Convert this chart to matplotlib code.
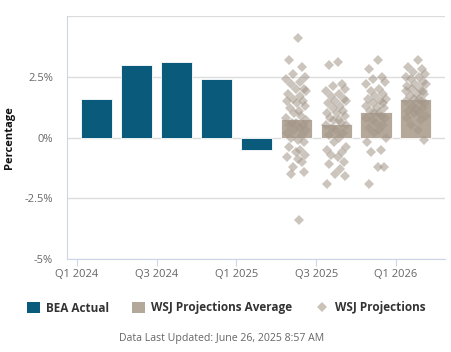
import matplotlib
matplotlib.use("Agg")
import matplotlib.pyplot as plt
from matplotlib.patches import Patch
from matplotlib.lines import Line2D
import numpy as np

plt.rcParams['font.family'] = ['Open Sans', 'DejaVu Sans']

quarters = ["Q1 2024", "Q2 2024", "Q3 2024", "Q4 2024", "Q1 2025",
            "Q2 2025", "Q3 2025", "Q4 2025", "Q1 2026"]
bea_actual = [1.6, 3.0, 3.1, 2.4, -0.5]
wsj_average = [0.78, 0.57, 1.05, 1.6]
tick_labels = ["Q1 2024", "Q3 2024", "Q1 2025", "Q3 2025", "Q1 2026"]

proj_q2_2025 = [4.1, 3.2, 2.9, 2.6, 2.5, 2.4, 2.3, 2.2, 2.0, 2.0, 1.9, 1.8, 1.7,
                1.6, 1.5, 1.5, 1.4, 1.3, 1.2, 1.1, 1.0, 0.9, 0.8, 0.7, 0.6, 0.6,
                0.5, 0.5, 0.4, 0.3, 0.3, 0.2, 0.1, 0.0, -0.1, -0.2, -0.4, -0.5,
                -0.6, -0.7, -0.8, -0.9, -1.0, -1.2, -1.4, -1.5, -3.4]
proj_q3_2025 = [3.1, 3.0, 2.2, 2.1, 2.0, 1.9, 1.8, 1.7, 1.6, 1.5, 1.5, 1.4, 1.3,
                1.2, 1.1, 1.0, 1.0, 0.9, 0.8, 0.7, 0.7, 0.6, 0.5, 0.5, 0.4, 0.3,
                0.2, 0.1, 0.0, -0.2, -0.4, -0.5, -0.6, -0.7, -0.8, -1.0, -1.1,
                -1.3, -1.5, -1.6, -1.9]
proj_q4_2025 = [3.2, 2.8, 2.5, 2.4, 2.3, 2.2, 2.0, 1.9, 1.8, 1.7, 1.6, 1.6, 1.5,
                1.4, 1.4, 1.3, 1.2, 1.2, 1.1, 1.0, 1.0, 0.9, 0.8, 0.8, 0.7, 0.6,
                0.5, 0.4, 0.3, 0.2, 0.0, -0.2, -0.5, -0.6, -1.2, -1.2, -1.9]
proj_q1_2026 = [3.2, 2.9, 2.8, 2.7, 2.6, 2.5, 2.5, 2.4, 2.3, 2.2, 2.2, 2.1, 2.0,
                2.0, 1.9, 1.9, 1.8, 1.8, 1.7, 1.6, 1.6, 1.5, 1.5, 1.4, 1.3, 1.2,
                1.2, 1.1, 1.0, 1.0, 0.9, 0.8, 0.7, 0.5, 0.3, -0.1]
projections = [proj_q2_2025, proj_q3_2025, proj_q4_2025, proj_q1_2026]

jitter = [0.05, -0.22, 0.18, -0.08, 0.27, -0.3, 0.1, -0.15, 0.22, -0.02, 0.3,
          -0.25, 0.12, -0.1, 0.2, -0.28, 0.02, 0.25, -0.18, 0.08, -0.05, 0.15,
          -0.3, 0.28, -0.12, 0.0, 0.2, -0.22, 0.1, -0.06, 0.3, -0.26, 0.16,
          -0.14, 0.06, 0.24, -0.2, 0.12, -0.02, 0.26, -0.28, 0.04, 0.18, -0.1,
          0.22, -0.16, 0.08]

bea_color = "#0a5a7b"
avg_color = "#b3a899"
dia_color = "#a3968a"

fig = plt.figure(figsize=(4.52, 3.52), dpi=100)
ax = fig.add_axes([67/452, 1 - 259/352, (445 - 67)/452, (259 - 16)/352])

x_all = np.arange(len(quarters))
n_act = len(bea_actual)
ax.bar(x_all[:n_act], bea_actual, width=0.78, color=bea_color, zorder=2,
       edgecolor="white", linewidth=0.6)
ax.bar(x_all[n_act:], wsj_average, width=0.78, color=avg_color, zorder=2,
       edgecolor="white", linewidth=0.6)

for k, vals in enumerate(projections):
    xc = x_all[n_act + k]
    xs = [xc + 0.85 * jitter[i % len(jitter)] for i in range(len(vals))]
    ax.plot(xs, vals, linestyle="none", marker="D", ms=5.6,
            color=dia_color, alpha=0.55, markeredgewidth=0, zorder=3)

ax.set_xlim(-0.745, 8.73)
ax.set_ylim(-5, 5)
ax.set_yticks([-5, -2.5, 0, 2.5, 5])
ax.set_yticklabels(["-5%", "-2.5%", "0%", "2.5%", ""])
ax.yaxis.grid(True, color="#dcdcdc", linewidth=1, zorder=0)
ax.set_axisbelow(True)
ax.tick_params(axis="y", length=0, labelsize=8, labelcolor="#666666", pad=10)

tick_pos = [x_all[quarters.index(t)] - 0.5 for t in tick_labels]
ax.set_xticks(tick_pos)
ax.set_xticklabels(tick_labels)
ax.tick_params(axis="x", length=5, color="#ccd6eb", labelsize=8,
               labelcolor="#666666", pad=2)

for s in ["top", "right"]:
    ax.spines[s].set_visible(False)
ax.spines["left"].set_color("#ccd6eb")
ax.spines["bottom"].set_color("#ccd6eb")

ax.set_ylabel("Percentage", fontsize=8, fontweight="bold", color="#111111",
              labelpad=7)

handles = [Patch(facecolor=bea_color, edgecolor="none"),
           Patch(facecolor=avg_color, edgecolor="none"),
           Line2D([], [], linestyle="none", marker="D", ms=5, color="#cbc3b8",
                  markeredgewidth=0)]
fig.legend(handles, ["BEA Actual", "WSJ Projections Average", "WSJ Projections"],
           loc="center", bbox_to_anchor=(0.5, 1 - 308/352), ncol=3,
           frameon=False, prop={"weight": "bold", "size": 8.5},
           labelcolor="#333333", handlelength=1.1, handleheight=1.1,
           columnspacing=2.0, handletextpad=0.5)

fig.text(0.49, 1 - 339/352, "Data Last Updated: June 26, 2025 8:57 AM",
         ha="center", va="center", fontsize=7.6, color="#666666")

fig.savefig("out.png", dpi=100)
